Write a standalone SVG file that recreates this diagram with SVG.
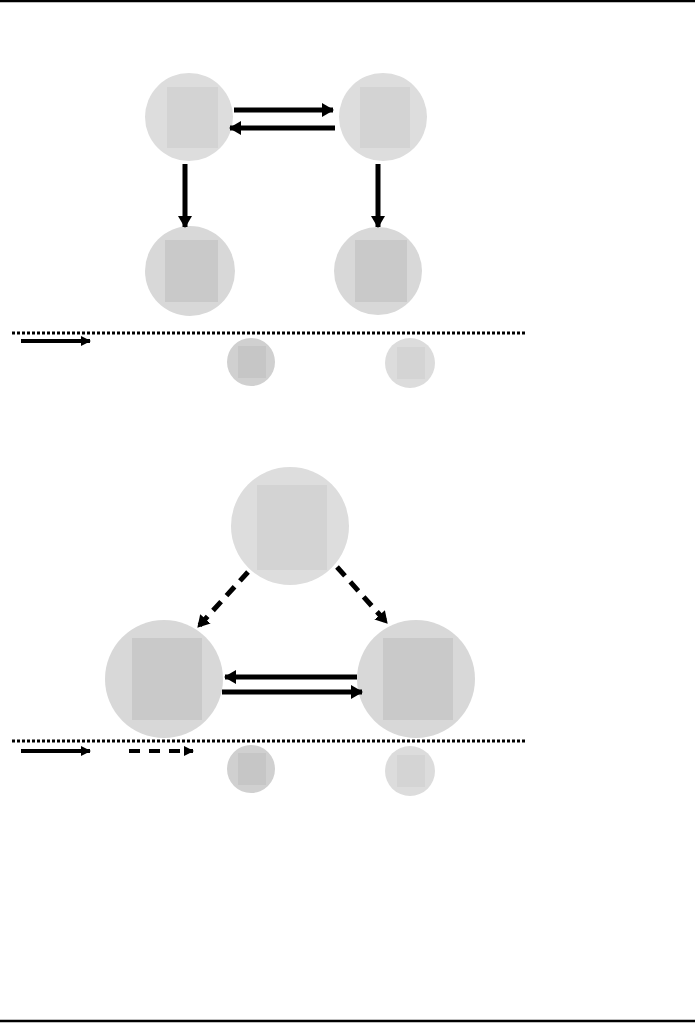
<svg xmlns="http://www.w3.org/2000/svg" width="695" height="1023" viewBox="0 0 695 1023">
<defs>
<marker id="ah" markerUnits="userSpaceOnUse" markerWidth="12" markerHeight="14" refX="11" refY="7" orient="auto">
<path d="M0,0 L12,7 L0,14 Z" fill="#000"/>
</marker>
<marker id="ahs" markerUnits="userSpaceOnUse" markerWidth="10" markerHeight="10" refX="9" refY="5" orient="auto">
<path d="M0,0 L10,5 L0,10 Z" fill="#000"/>
</marker>
</defs>
<style>
.c1{fill:#dddddd}
.s1{fill:#d3d3d3}
.c2{fill:#d8d8d8}
.s2{fill:#c9c9c9}
.smd{fill:#d0d0d0}
.smds{fill:#c6c6c6}
.sml{fill:#dcdcdc}
.smls{fill:#d4d4d4}
.a{stroke:#000;stroke-width:5;fill:none;marker-end:url(#ah)}
.d{stroke:#000;stroke-width:5;fill:none;stroke-dasharray:12 8;marker-end:url(#ah)}
.la{stroke:#000;stroke-width:4;fill:none;marker-end:url(#ahs)}
.ld{stroke:#000;stroke-width:4;fill:none;stroke-dasharray:11 9;marker-end:url(#ahs)}
.dot{stroke:#000;stroke-width:3;stroke-dasharray:3 2;fill:none}
.rule{stroke:#000;stroke-width:2.5}
</style>
<line class="rule" x1="0" y1="1" x2="695" y2="1"/>
<line class="rule" x1="0" y1="1021" x2="695" y2="1021"/>

<g id="n1"><circle class="c1" cx="189" cy="117" r="44"/><rect class="s1" x="167" y="87" width="51" height="61"/></g>
<g id="n2"><circle class="c1" cx="383" cy="117" r="44"/><rect class="s1" x="360" y="87" width="50" height="61"/></g>
<g id="n3"><circle class="c2" cx="190" cy="271" r="45"/><rect class="s2" x="165" y="240" width="53" height="62"/></g>
<g id="n4"><circle class="c2" cx="378" cy="271" r="44"/><rect class="s2" x="355" y="240" width="52" height="62"/></g>

<g id="legend1">
<line class="dot" x1="12" y1="333" x2="525" y2="333"/>
<g id="k1"><circle class="smd" cx="251" cy="362" r="24"/><rect class="smds" x="238" y="346" width="28" height="32"/></g>
<g id="k2"><circle class="sml" cx="410" cy="363" r="25"/><rect class="smls" x="397" y="347" width="28" height="32"/></g>
</g>

<g id="m1"><circle class="c1" cx="290" cy="526" r="59"/><rect class="s1" x="257" y="485" width="70" height="85"/></g>
<g id="m2"><circle class="c2" cx="164" cy="679" r="59"/><rect class="s2" x="132" y="638" width="70" height="82"/></g>
<g id="m3"><circle class="c2" cx="416" cy="679" r="59"/><rect class="s2" x="383" y="638" width="70" height="82"/></g>

<g id="legend2">
<line class="dot" x1="12" y1="741" x2="525" y2="741"/>
<g id="k3"><circle class="smd" cx="251" cy="769" r="24"/><rect class="smds" x="238" y="753" width="28" height="32"/></g>
<g id="k4"><circle class="sml" cx="410" cy="771" r="25"/><rect class="smls" x="397" y="755" width="28" height="32"/></g>
</g>

<g id="connectors">
<line class="a" x1="234" y1="110" x2="333" y2="110"/>
<line class="a" x1="335" y1="128" x2="230" y2="128"/>
<line class="a" x1="185" y1="164" x2="185" y2="227"/>
<line class="a" x1="378" y1="164" x2="378" y2="227"/>
<line class="la" x1="21" y1="341" x2="90" y2="341"/>

<line class="d" x1="248" y1="572" x2="198" y2="627"/>
<line class="d" x1="337" y1="567" x2="387" y2="623"/>
<line class="a" x1="357" y1="677" x2="225" y2="677"/>
<line class="a" x1="222" y1="692" x2="362" y2="692"/>
<line class="la" x1="21" y1="751" x2="90" y2="751"/>
<line class="ld" x1="129" y1="751" x2="193" y2="751"/>
</g>
</svg>
